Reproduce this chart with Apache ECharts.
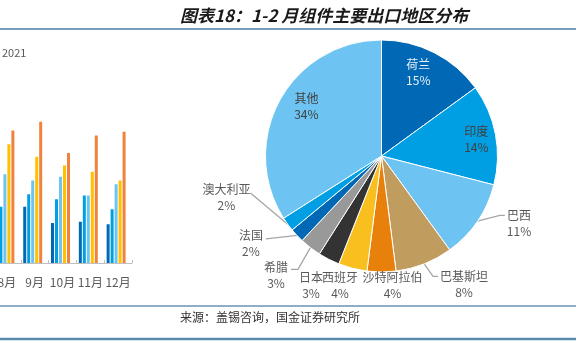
<!DOCTYPE html>
<html>
<head>
<meta charset="utf-8">
<script src="https://cdn.jsdelivr.net/npm/echarts@6/dist/echarts.min.js"></script>
<style>
html,body{margin:0;padding:0;background:#fff;}
#c{width:576px;height:343px;}
</style>
</head>
<body>
<div id="c"></div>
<script>
// ---- Pie data (1-2月组件主要出口地区分布, %)
const regions = ['荷兰','印度','巴西','巴基斯坦','沙特阿拉伯','西班牙','日本','希腊','法国','澳大利亚','其他'];
const shares  = [15, 14, 11, 8, 4, 4, 3, 3, 2, 2, 34];
const insideLabeled = ['荷兰','印度','其他'];

// ---- Left (cropped) bar chart data
const months = ['8月','9月','10月','11月','12月'];
const years  = ['2017','2018','2019','2020','2021','2022'];
const v2017 = [4.6, 4.5, 3.2, 3.3, 3.1];
const v2018 = [4.5, 5.5, 5.1, 5.4, 4.3];
const v2019 = [7.1, 6.6, 6.9, 5.4, 6.3];
const v2020 = [9.5, 8.5, 7.8, 7.3, 6.6];
const v2021 = [10.6, 11.3, 8.8, 10.2, 10.5];
const v2022 = [null, null, null, null, null];
const barValues = [v2017, v2018, v2019, v2020, v2021, v2022];

// ---- styles
const sliceColors = ['#0068B5','#009FE3','#6DC4F2','#C09D5E','#E8800C','#F8BF1E','#333333','#999999','#0068B5','#009FE3','#6DC4F2'];
const barColors = ['#0068B5','#009FE3','#6DC4F2','#FFC000','#F0823A','#A5A5A5'];
const insideLabelColors = {'荷兰':'#E8F0F8','印度':'#404040','其他':'#404040'};
const insideLabelOffset = {'荷兰': [-5, -1.5], '印度': [4.5, 0.5], '其他': [5.5, -5]};
// label block centre offset from the slice's outer-edge anchor (style tuning)
const outsideLabelOffset = {
  '巴西': [41.6, 2.2],
  '巴基斯坦': [39.8, 20.6],
  '沙特阿拉伯': [11, 13],
  '西班牙': [-12.6, 16.6],
  '日本': [-17.8, 25.6],
  '希腊': [-34.4, 27.7],
  '法国': [-46, 8.5],
  '澳大利亚': [-61.2, -27.2]
};
const leaderKind = {'巴西':'left','巴基斯坦':'left','希腊':'right','法国':'flat','澳大利亚':'corner'};
const FONT = '"Noto Sans CJK SC", "Noto Sans", sans-serif';
const labelGray = '#595959';

const chart = echarts.init(document.getElementById('c'), null, {renderer: 'canvas'});

const mainData = regions.map((name, i) => {
  const inside = insideLabeled.includes(name);
  return {
    name: name,
    value: shares[i],
    itemStyle: {color: sliceColors[i]},
    label: {show: !inside},
    labelLine: {show: !inside, lineStyle: {opacity: leaderKind[name] ? 1 : 0}}
  };
});
const overlayData = regions.map((name, i) => {
  const inside = insideLabeled.includes(name);
  return {
    name: name,
    value: shares[i],
    label: {show: inside, color: insideLabelColors[name] || labelGray}
  };
});

const barSeries = years.map((y, k) => ({
  name: y,
  type: 'bar',
  data: barValues[k],
  barWidth: 3,
  barGap: '33%',
  itemStyle: {color: barColors[k]},
  silent: true
}));

function pieLabelLayout(p) {
  const name = regions[p.dataIndex];
  const off = outsideLabelOffset[name];
  if (!off || !p.labelLinePoints) return {hideOverlap: false};
  const a = [p.labelLinePoints[0][0], p.labelLinePoints[0][1]];
  const w = p.labelRect.width, h = p.labelRect.height;
  const cx = a[0] + off[0], cy = a[1] + off[1];
  const L = cx - w / 2, R = cx + w / 2, fy = cy - h / 2 + 8;
  let pts;
  switch (leaderKind[name]) {
    case 'left':   pts = [a, [L - 7, fy], [L - 2, fy]]; break;
    case 'right':  pts = [a, [R + 10, fy + 2], [R + 3, fy + 2]]; break;
    case 'flat':   pts = [a, [R + 3, fy + 3], [R + 3, fy + 3]]; break;
    case 'corner': pts = [a, [R, fy + 4], [R, fy + 4]]; break;
    default:       pts = [a, a.slice(), a.slice()];
  }
  return {x: cx, y: cy, align: 'center', verticalAlign: 'middle', labelLinePoints: pts, hideOverlap: false};
}
function insideLabelLayout(p) {
  const off = insideLabelOffset[regions[p.dataIndex]];
  if (!off) return {};
  const r = p.labelRect;
  return {x: r.x + r.width / 2 + off[0], y: r.y + r.height / 2 + off[1], align: 'center', verticalAlign: 'middle', hideOverlap: false};
}

const option = {
  animation: false,
  backgroundColor: '#ffffff',
  textStyle: {fontFamily: FONT},
  title: {
    text: '图表18：1-2 月组件主要出口地区分布',
    left: 175,
    top: 2,
    textStyle: {fontFamily: FONT, fontSize: 17, fontWeight: 'bold', fontStyle: 'italic', color: '#1a1a1a'}
  },
  legend: {
    data: ['2021'],
    left: -20,
    top: 42,
    itemWidth: 12,
    itemHeight: 8,
    itemGap: 6,
    textStyle: {fontSize: 11, color: labelGray, fontFamily: FONT}
  },
  grid: {left: -7, top: 63, width: 139, height: 200, outerBoundsMode: 'none', containLabel: false},
  xAxis: {
    type: 'category',
    data: months,
    axisLine: {lineStyle: {color: '#BFBFBF', width: 1}},
    axisTick: {show: true, inside: true, length: 3, lineStyle: {color: '#BFBFBF'}},
    axisLabel: {interval: 0, fontSize: 12, color: labelGray, margin: 13, fontFamily: FONT}
  },
  yAxis: {type: 'value', min: 0, max: 16, show: false},
  series: barSeries.concat([
    {
      type: 'pie',
      center: [381.5, 156],
      radius: [0, 116],
      startAngle: 90,
      clockwise: true,
      avoidLabelOverlap: false,
      silent: true,
      itemStyle: {borderColor: '#ffffff', borderWidth: 1},
      label: {
        position: 'outside',
        fontSize: 12,
        lineHeight: 16,
        color: labelGray,
        fontFamily: FONT,
        formatter: p => '{c|' + p.name + '}\n{c|' + p.value + '%}',
        rich: {c: {align: 'center', fontSize: 12, lineHeight: 16, color: labelGray, fontFamily: FONT}}
      },
      labelLine: {length: 8, length2: 8, lineStyle: {color: '#A6A6A6', width: 1.3}},
      labelLayout: pieLabelLayout,
      data: mainData
    },
    {
      type: 'pie',
      center: [381.5, 156],
      radius: [62, 116],
      startAngle: 90,
      clockwise: true,
      avoidLabelOverlap: false,
      silent: true,
      z: 3,
      itemStyle: {color: 'rgba(0,0,0,0)', borderWidth: 0},
      label: {
        position: 'inside',
        fontSize: 12,
        lineHeight: 16,
        fontFamily: FONT,
        formatter: p => p.name + '\n' + p.value + '%'
      },
      labelLine: {show: false},
      labelLayout: insideLabelLayout,
      data: overlayData
    }
  ]),
  graphic: [
    {type: 'line', shape: {x1: 0, y1: 29, x2: 576, y2: 29}, style: {stroke: '#4A7FA7', lineWidth: 1.5}},
    {type: 'line', shape: {x1: 0, y1: 306, x2: 576, y2: 306}, style: {stroke: '#1F5F8B', lineWidth: 1}},
    {type: 'line', shape: {x1: 0, y1: 339, x2: 576, y2: 339}, style: {stroke: '#5A8BAD', lineWidth: 2.5}},
    {type: 'text', left: 180, top: 311, style: {text: '来源：盖锡咨询，国金证券研究所', fontSize: 12, fill: '#333333', fontFamily: FONT}}
  ]
};
chart.setOption(option);
</script>
</body>
</html>
